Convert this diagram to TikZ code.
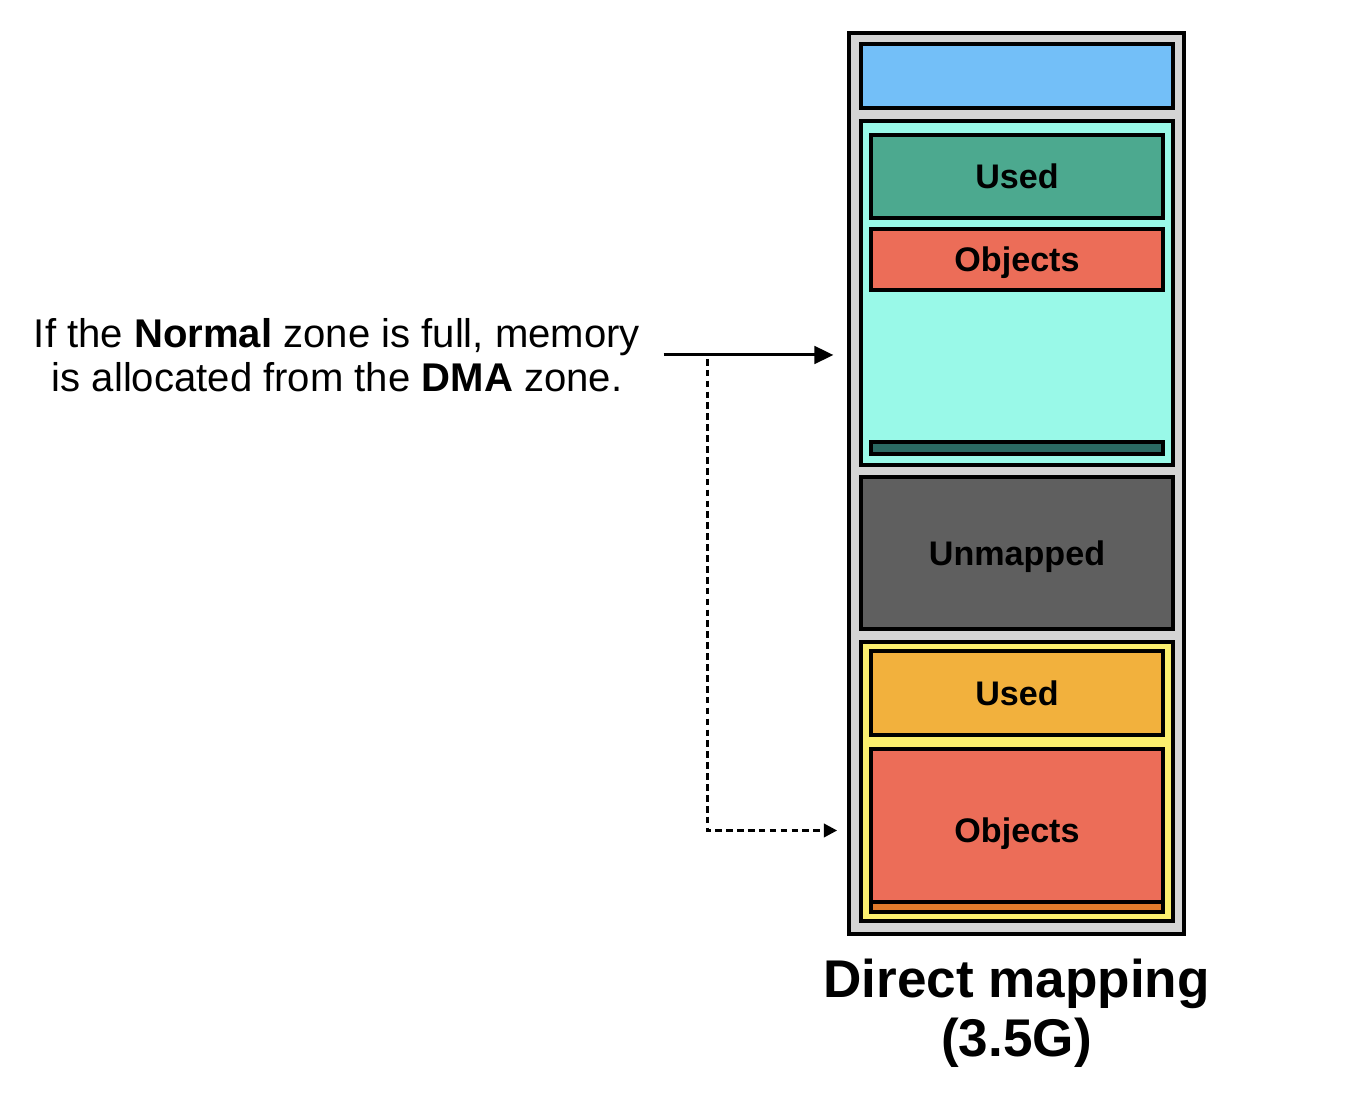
\documentclass[tikz,border=0pt]{standalone}
\usepackage{fontspec}
\setmainfont{Liberation Sans}
\usetikzlibrary{positioning,arrows.meta}

\definecolor{memgray}{HTML}{D4D4D4}
\definecolor{topblue}{HTML}{73BFF8}
\definecolor{normcyan}{HTML}{99F9E8}
\definecolor{usedgreen}{HTML}{4CA98F}
\definecolor{objred}{HTML}{EC6D58}
\definecolor{barteal}{HTML}{2B6A63}
\definecolor{unmapgray}{HTML}{5F5F5F}
\definecolor{dmayellow}{HTML}{FBEF6E}
\definecolor{usedorange}{HTML}{F2B13D}
\definecolor{barorange}{HTML}{E07B2C}

\begin{document}
\begin{tikzpicture}[x=0.01cm,y=-0.01cm,
  zone/.style={draw, line width=1pt, inner sep=0pt, minimum width=3.12cm},
  part/.style={draw, line width=1pt, inner sep=0pt, minimum width=2.92cm},
  boxfont/.style={font=\fontsize{9.7}{11}\selectfont\bfseries, text depth=0pt},
  fleche/.style={line width=0.85pt, ->, >={Triangle[length=5.4pt,width=5pt]}},
  pointille/.style={line width=0.85pt, ->, >={Triangle[length=3.8pt,width=3.8pt]}, dash pattern=on 1.9pt off 1.2pt}]

 \useasboundingbox (0,0) rectangle (1354,1104);

	% Memoire
 \node[draw, line width=1.1pt, fill=memgray, inner sep=0pt, minimum width=3.34cm, minimum height=9cm] (mem) at (1016.5,483.5) {};

	% Zones
 \node[zone, fill=topblue, minimum height=0.64cm] (top) at (1017,76) {};
 \node[zone, fill=normcyan, minimum height=3.44cm] (normal) at (1017,293) {};
 \node[zone, boxfont, fill=unmapgray, minimum height=1.52cm] (unmap) at (1017,553) {Unmapped};
 \node[zone, fill=dmayellow, minimum height=2.79cm] (dma) at (1017,781.5) {};

	% Contenu Normal
 \node[part, boxfont, fill=usedgreen, minimum height=0.83cm] (used1) at (1017,176.5) {Used};
 \node[part, boxfont, fill=objred, minimum height=0.61cm] (obj1) at (1017,259.5) {Objects};
 \node[part, fill=barteal, minimum height=0.12cm] (bar1) at (1017,448) {};

	% Contenu DMA
 \node[part, boxfont, fill=usedorange, minimum height=0.84cm] (used2) at (1017,693) {Used};
 \node[part, boxfont, fill=objred, minimum height=1.63cm] (obj2) at (1017,830.5) {Objects};
 \node[part, fill=barorange, minimum height=0.10cm] (bar2) at (1017,907) {};

	% Textes
 \node[align=center, inner sep=0pt, font=\fontsize{11.4}{12.5}\selectfont] (note) at (337,355)
   {If the \textbf{Normal} zone is full, memory\\is allocated from the \textbf{DMA} zone.};
 \node[below=6.5pt of mem, align=center, inner sep=0pt, font=\fontsize{15.1}{16.6}\selectfont\bfseries] (title)
   {Direct mapping\\(3.5G)};

	% Fleches
 \coordinate (split) at ([xshift=18.9pt]note.east);
 \draw[fleche, shorten <=6.5pt, shorten >=4pt] (note.east) -- (note.east -| mem.west);
 \draw[pointille, shorten <=1.1pt, shorten >=9.1pt] (split) |- (obj2.west);

\end{tikzpicture}
\end{document}
